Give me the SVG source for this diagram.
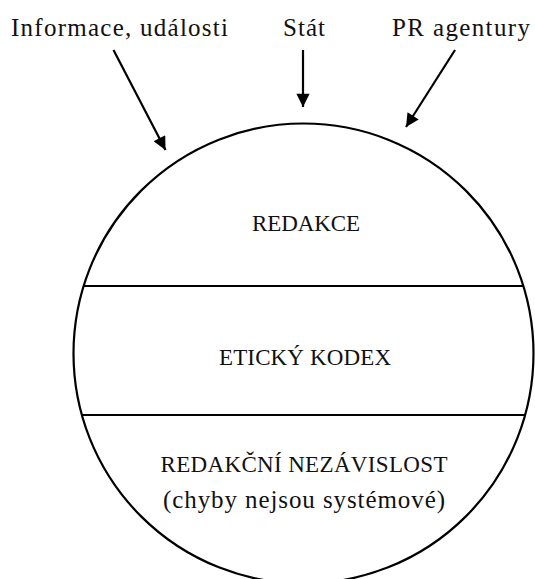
<svg xmlns="http://www.w3.org/2000/svg" width="535" height="579" viewBox="0 0 535 579">
<style>
text { font-family: "Liberation Serif", "DejaVu Serif", serif; fill: #111; }
.lab { font-size: 25px; }
.cap { font-size: 23px; text-anchor: middle; }
.sub { font-size: 25px; text-anchor: middle; }
.ln { stroke: #000; stroke-width: 2.2; fill: none; }
</style>
<defs>
<marker id="ah" viewBox="0 0 10 10" refX="10" refY="5" markerWidth="7" markerHeight="6" markerUnits="strokeWidth" orient="auto">
<path d="M0,0 L10,5 L0,10 z" fill="#000"/>
</marker>
</defs>
<rect width="535" height="579" fill="#fff"/>
<g id="circle">
<circle class="ln" cx="303.5" cy="353.5" r="230"/>
<line class="ln" x1="83.5" y1="286" x2="523.5" y2="286"/>
<line class="ln" x1="82" y1="415" x2="525" y2="415"/>
</g>
<g id="redakce"><text class="cap" x="306" y="231" textLength="108" lengthAdjust="spacing">REDAKCE</text></g>
<g id="eticky-kodex"><text class="cap" x="305" y="365" textLength="172" lengthAdjust="spacing">ETICKÝ KODEX</text></g>
<g id="nezavislost">
<text class="cap" x="304" y="472" textLength="287" lengthAdjust="spacing">REDAKČNÍ NEZÁVISLOST</text>
<text class="sub" x="304" y="508" textLength="282" lengthAdjust="spacing">(chyby nejsou systémové)</text>
</g>
<g id="informace"><text class="lab" x="11" y="36" textLength="217" lengthAdjust="spacing">Informace, události</text></g>
<g id="stat"><text class="lab" x="283" y="36" textLength="42" lengthAdjust="spacing">Stát</text></g>
<g id="pr"><text class="lab" x="392" y="36" textLength="138" lengthAdjust="spacing">PR agentury</text></g>
<g id="connectors">
<line class="ln" x1="113.5" y1="50" x2="165.5" y2="150" marker-end="url(#ah)"/>
<line class="ln" x1="303" y1="50" x2="303" y2="107" marker-end="url(#ah)"/>
<line class="ln" x1="455" y1="50" x2="406" y2="127" marker-end="url(#ah)"/>
</g>
</svg>
